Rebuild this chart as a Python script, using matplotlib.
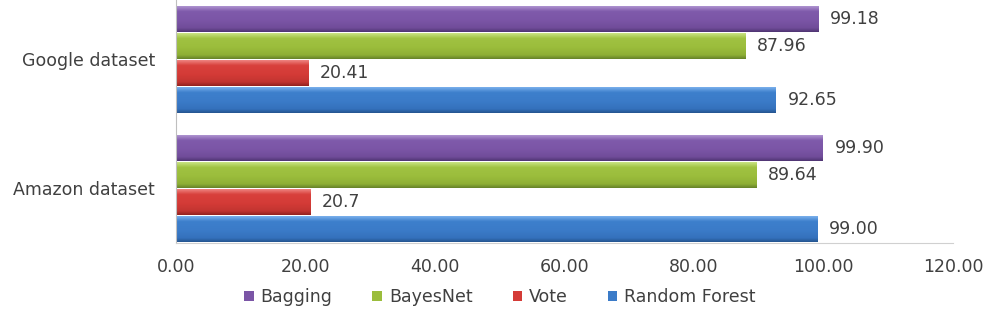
import matplotlib
matplotlib.use("Agg")
import matplotlib.pyplot as plt
from matplotlib.colors import LinearSegmentedColormap
import numpy as np

categories = ["Amazon dataset", "Google dataset"]
series_names = ["Random Forest", "Vote", "BayesNet", "Bagging"]
random_forest = [99.00, 92.65]
vote = [20.7, 20.41]
bayesnet = [89.64, 87.96]
bagging = [99.90, 99.18]
random_forest_labels = ["99.00", "92.65"]
vote_labels = ["20.7", "20.41"]
bayesnet_labels = ["89.64", "87.96"]
bagging_labels = ["99.90", "99.18"]
xticks = [0, 20, 40, 60, 80, 100, 120]

colors = {"Random Forest": "#3B7BC8", "Vote": "#D43B37", "BayesNet": "#9BBD3C", "Bagging": "#7B55A6"}
shades = {
    "Random Forest": ["#25558F", "#3471BC", "#3B7BC8", "#3D7FCC", "#79B0EC"],
    "Vote": ["#93221F", "#C23430", "#D43B37", "#D8403C", "#EE8380"],
    "BayesNet": ["#66822A", "#8EAF35", "#9BBD3C", "#A0C242", "#C9E383"],
    "Bagging": ["#4F3472", "#704C99", "#7B55A6", "#7F5AAB", "#AE93D0"],
}

plt.rcParams['font.family'] = ['DejaVu Sans']
fs = 12.5
fig = plt.figure(figsize=(9.9, 3.1), dpi=100)
ax = fig.add_axes([176/990, 1-243/310, (953-176)/990, 243/310])

y = np.arange(len(categories))
h = 27/129
data = [(random_forest, random_forest_labels), (vote, vote_labels),
        (bayesnet, bayesnet_labels), (bagging, bagging_labels)]
grad = np.linspace(0, 1, 64).reshape(-1, 1)
handles = {}
for i, (name, (vals, labs)) in enumerate(zip(series_names, data)):
    pos = y + (i - 1.5) * h
    b = ax.barh(pos, vals, height=h * 0.96, color=colors[name], edgecolor="none", label=name)
    handles[name] = b
    cmap = LinearSegmentedColormap.from_list(name, list(zip([0, 0.15, 0.45, 0.8, 1.0], shades[name])))
    for rect in b.patches:
        x0, y0 = rect.get_x(), rect.get_y()
        w, hh = rect.get_width(), rect.get_height()
        ax.imshow(grad, extent=[x0, x0 + w, y0, y0 + hh], origin="lower", aspect="auto",
                  cmap=cmap, zorder=rect.get_zorder() + 0.1, interpolation="bilinear")
    for p, v, t in zip(pos, vals, labs):
        ax.text(v + 1.8, p, t, va="center", ha="left", fontsize=fs, color="#404040")

ax.set_ylim(-0.426, 1.458)
ax.set_xlim(0, 120)
ax.set_xticks(xticks)
ax.set_xticklabels([f"{t:.2f}" for t in xticks], fontsize=fs, color="#404040")
ax.set_yticks(y)
ax.set_yticklabels(categories, fontsize=fs, color="#404040")
ax.tick_params(length=0, pad=15)
ax.tick_params(axis='x', pad=11)
for s in ["top", "right"]:
    ax.spines[s].set_visible(False)
ax.spines["left"].set_color("#BFBFBF")
ax.spines["bottom"].set_color("#D0D0D0")

order = ["Bagging", "BayesNet", "Vote", "Random Forest"]
leg = fig.legend([handles[n] for n in order], order, loc="center", bbox_to_anchor=(500/990, 1-297/310),
                 ncol=4, frameon=False, fontsize=fs, handlelength=0.55, handleheight=0.55,
                 handletextpad=0.4, columnspacing=2.3)
for t in leg.get_texts():
    t.set_color("#404040")

fig.savefig("out.png", dpi=100)
